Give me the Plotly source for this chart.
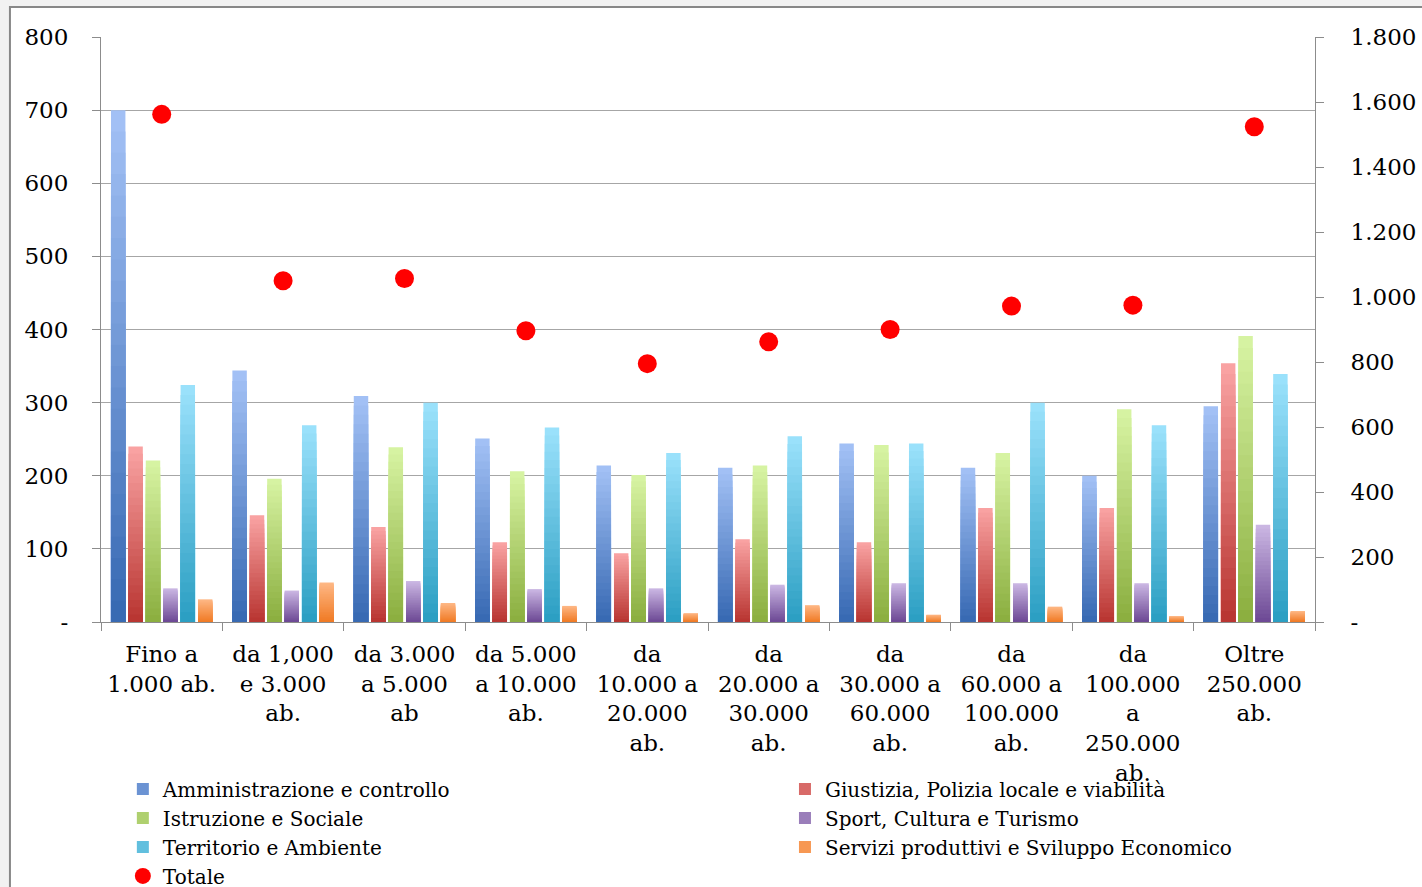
import plotly.graph_objects as go

# Categories (fasce demografiche dei comuni)
categorie = [
    "Fino a<br>1.000 ab.",
    "da 1,000<br>e 3.000<br>ab.",
    "da 3.000<br>a 5.000<br>ab",
    "da 5.000<br>a 10.000<br>ab.",
    "da<br>10.000 a<br>20.000<br>ab.",
    "da<br>20.000 a<br>30.000<br>ab.",
    "da<br>30.000 a<br>60.000<br>ab.",
    "da<br>60.000 a<br>100.000<br>ab.",
    "da<br>100.000<br>a<br>250.000<br>ab.",
    "Oltre<br>250.000<br>ab.",
]

amministrazione = [700, 344, 309, 251, 214, 211, 244, 211, 200, 295]
giustizia = [240, 146, 130, 109, 94, 113, 109, 156, 156, 354]
istruzione = [221, 196, 239, 206, 201, 214, 242, 231, 291, 391]
sport = [46, 43, 56, 45, 46, 51, 53, 53, 53, 133]
territorio = [324, 269, 300, 266, 231, 254, 244, 300, 269, 339]
servizi = [31, 54, 26, 22, 12, 23, 10, 21, 8, 15]
totale = [1562, 1050, 1057, 896, 795, 862, 900, 972, 975, 1524]

left_ticks = [0, 100, 200, 300, 400, 500, 600, 700, 800]
left_labels = ["-", "100", "200", "300", "400", "500", "600", "700", "800"]
right_ticks = [0, 200, 400, 600, 800, 1000, 1200, 1400, 1600, 1800]
right_labels = ["-", "200", "400", "600", "800", "1.000", "1.200", "1.400", "1.600", "1.800"]

# name, values, colour at the top of the bar, colour at the base, legend
serie = [
    ("Amministrazione e controllo", amministrazione, (164, 194, 246), (54, 104, 178), "legend"),
    ("Giustizia, Polizia locale e viabilità", giustizia, (250, 164, 164), (184, 52, 48), "legend2"),
    ("Istruzione e Sociale", istruzione, (216, 244, 164), (138, 174, 62), "legend"),
    ("Sport, Cultura e Turismo", sport, (204, 184, 228), (108, 72, 148), "legend2"),
    ("Territorio e Ambiente", territorio, (156, 226, 252), (42, 158, 194), "legend"),
    ("Servizi produttivi e Sviluppo Economico", servizi, (254, 184, 134), (240, 122, 36), "legend2"),
]

FONT = "DejaVu Serif"
FSIZE = 23
LEGEND_SIZE = 20
STEPS = 24


def mix(c_low, c_high, t):
    return "rgb({},{},{})".format(*[round(a + (b - a) * t) for a, b in zip(c_low, c_high)])


fig = go.Figure()

# Each bar is built as overlapping slices sharing one offset group, so the
# fill fades from the dark base to the light top.
for name, vals, top, base, leg in serie:
    for k in range(STEPS, 0, -1):
        frac = k / STEPS
        fig.add_trace(go.Bar(
            x=categorie,
            y=[v * frac for v in vals],
            name=name,
            offsetgroup=name,
            legendgroup=name,
            legend=leg,
            showlegend=(k == STEPS // 2),
            marker=dict(color=mix(base, top, (k - 0.5) / STEPS), line=dict(width=0)),
            hoverinfo="skip" if k != STEPS else None,
            yaxis="y",
        ))

fig.add_trace(go.Scatter(
    x=categorie,
    y=totale,
    name="Totale",
    mode="markers",
    marker=dict(color="#ff0000", size=19, symbol="circle"),
    yaxis="y2",
    legend="legend",
))

axis_grey = "#8c8c8c"
legend_style = dict(
    orientation="v",
    xanchor="left",
    y=-0.252,
    yanchor="top",
    traceorder="normal",
    font=dict(family=FONT, size=LEGEND_SIZE),
    bgcolor="rgba(0,0,0,0)",
    itemwidth=30,
    tracegroupgap=0,
)

fig.update_layout(
    width=1422,
    height=887,
    margin=dict(l=101, r=107, t=37, b=265, autoexpand=False),
    paper_bgcolor="#f2f2f2",
    plot_bgcolor="rgba(0,0,0,0)",
    barmode="group",
    bargap=0.14,
    bargroupgap=0.17,
    font=dict(family=FONT, size=FSIZE, color="#000000"),
    xaxis=dict(
        range=[-0.5, 9.5],
        showgrid=False,
        showline=True,
        linecolor=axis_grey,
        linewidth=1,
        ticks="outside",
        tickson="boundaries",
        ticklen=8,
        tickcolor=axis_grey,
        tickfont=dict(family=FONT, size=FSIZE),
        ticklabelstandoff=11,
    ),
    yaxis=dict(
        range=[0, 800],
        tickvals=left_ticks,
        ticktext=left_labels,
        showgrid=True,
        gridcolor="#a6a6a6",
        gridwidth=1,
        showline=True,
        linecolor=axis_grey,
        ticks="outside",
        ticklen=8,
        tickcolor=axis_grey,
        zeroline=False,
        tickfont=dict(family=FONT, size=FSIZE),
        ticklabelstandoff=19,
    ),
    yaxis2=dict(
        range=[0, 1800],
        overlaying="y",
        side="right",
        tickvals=right_ticks,
        ticktext=right_labels,
        showgrid=False,
        showline=True,
        linecolor=axis_grey,
        ticks="outside",
        ticklen=8,
        tickcolor=axis_grey,
        zeroline=False,
        tickfont=dict(family=FONT, size=FSIZE),
        ticklabelstandoff=22,
    ),
    legend=dict(x=0.018, **legend_style),
    legend2=dict(x=0.5634, **legend_style),
    shapes=[
        dict(
            type="rect",
            xref="paper",
            yref="paper",
            x0=-0.075,
            x1=1.2,
            y0=-0.5,
            y1=1.0513,
            fillcolor="#ffffff",
            line=dict(color="#888888", width=2),
            layer="below",
        )
    ],
)

fig.write_html("out.html")
